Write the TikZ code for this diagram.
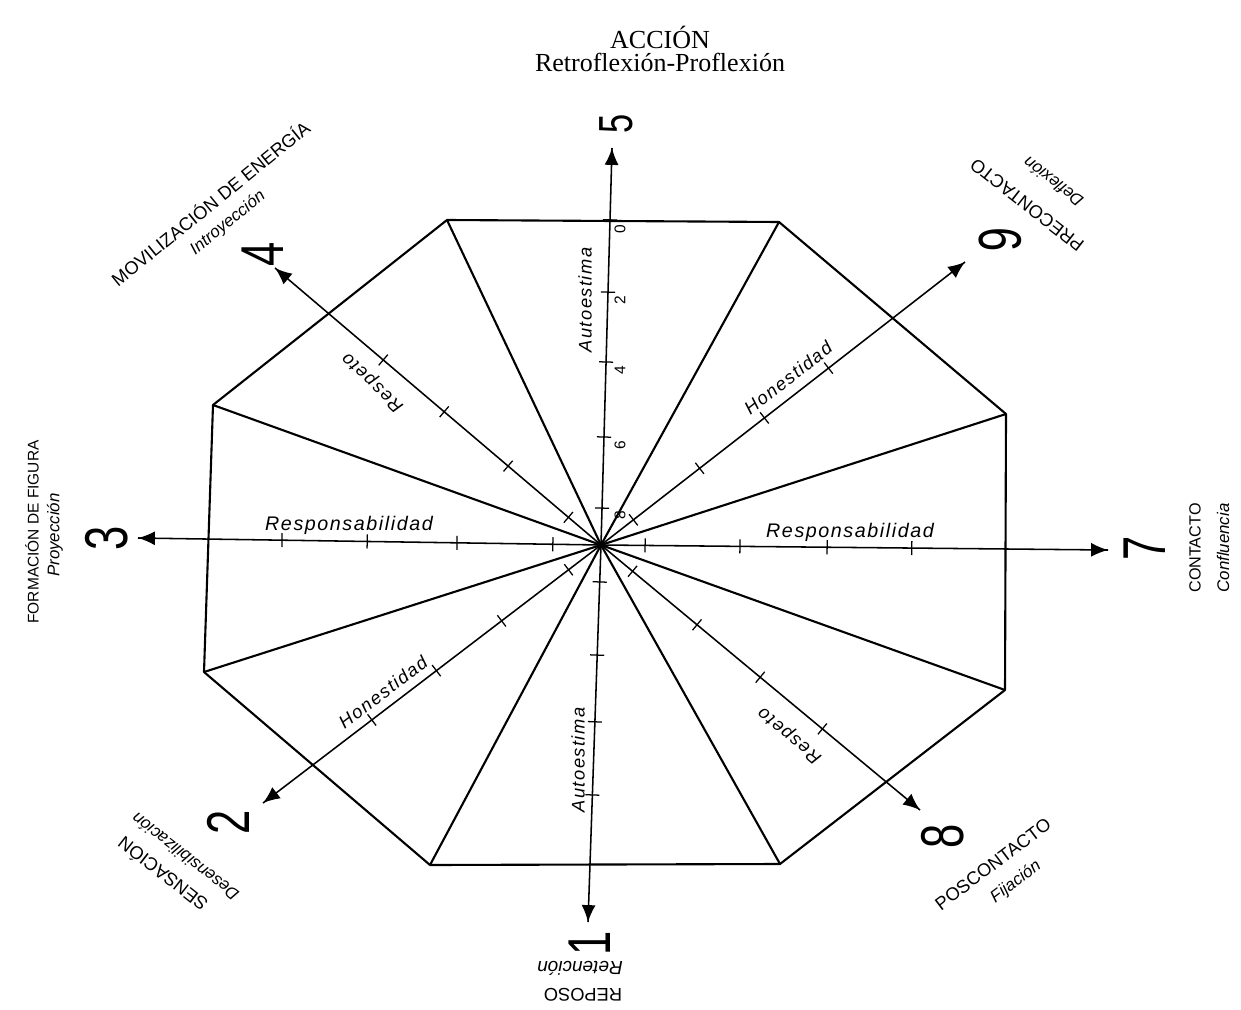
\documentclass[tikz,border=0pt]{standalone}
\usepackage{fontspec}
\setmainfont{Liberation Serif}
\setsansfont{Liberation Sans}
\newfontfamily\spacedsans[LetterSpace=8]{Liberation Sans}
\newfontfamily\narrowsans[FakeStretch=0.72]{Liberation Sans}
\usepackage{tikz}
\usetikzlibrary{arrows.meta}
\usetikzlibrary{decorations.markings}
\tikzset{axis/.style = {line width=1.1pt,
                        decoration={markings,
                                    mark=at position 1 with {\arrow{Latex[length=12pt,width=10pt]}}},
                        postaction={decorate}}}
\tikzset{edge/.style = {line width=1.5pt, line join=round},
         tickmark/.style = {sloped, inner sep=0pt, outer sep=0pt},
         stagenum/.style = {font=\narrowsans\fontsize{43}{46}\selectfont, rotate=90},
         stagename/.style = {font=\sffamily\fontsize{13}{15}\selectfont},
         stagesub/.style = {font=\sffamily\itshape\fontsize{12}{14}\selectfont},
         valuelabel/.style = {font=\spacedsans\itshape\fontsize{13}{15}\selectfont},
         scalenum/.style = {font=\sffamily\fontsize{11}{13}\selectfont, rotate=90}}

\begin{document}
\begin{tikzpicture}[x=0.025cm, y=-0.025cm, every node/.style={inner sep=0pt}]
    \useasboundingbox (0,0) rectangle (1241,1010);

    \node (title) at (660,37) {\fontsize{18.5}{20}\selectfont ACCIÓN};
    \node (subtitle) at (660,62) {\fontsize{18.5}{20}\selectfont Retroflexión-Proflexión};

    \coordinate (O) at (601,545);
    % octagon
    \coordinate (v1) at (447,220);
    \coordinate (v2) at (779,222);
    \coordinate (v3) at (1006,414);
    \coordinate (v4) at (1005,690);
    \coordinate (v5) at (780,864);
    \coordinate (v6) at (430,865);
    \coordinate (v7) at (204,672);
    \coordinate (v8) at (213,405);
    % axis ends
    \coordinate (t1) at (588,922);
    \coordinate (t2) at (263,803);
    \coordinate (t3) at (138,538);
    \coordinate (t4) at (275,268);
    \coordinate (t5) at (612,148);
    \coordinate (t6) at (965,262);
    \coordinate (t7) at (1108,550);
    \coordinate (t8) at (920,810);

    \draw [edge] (v1) -- (v2) -- (v3) -- (v4) -- (v5) -- (v6) -- (v7) -- (v8) -- cycle;
    \foreach \i in {1,...,8} {
      \draw [edge] (O) -- (v\i);
      \draw [axis] (O) -- (t\i);
    }

    \foreach \t/\ticks in {t5/{.093,.272,.461,.637,.819}, t1/{.098,.292,.469,.663},
                           t3/{.104,.311,.505,.689}, t7/{.087,.274,.446,.613},
                           t4/{.100,.285,.481,.668}, t6/{.089,.271,.449,.625},
                           t2/{.096,.294,.487,.678}, t8/{.099,.301,.499,.694}} {
      \foreach \p in \ticks {
        \path (O) -- (\t) node [tickmark, pos=\p] {\rule{0.9pt}{10pt}};
      }
    }

    % scale on the upper axis
    \node [scalenum] (k0) at (620,229) {0};
    \node [scalenum] (k2) at (620,300) {2};
    \node [scalenum] (k4) at (620,370) {4};
    \node [scalenum] (k6) at (620,445) {6};
    \node [scalenum] (k8) at (620,515) {8};

    % values
    \node [valuelabel, rotate=90] (auto1) at (585,300) {Autoestima};
    \node [valuelabel, rotate=90] (auto2) at (578,760) {Autoestima};
    \node [valuelabel, font=\spacedsans\itshape\fontsize{14}{16}\selectfont] (resp1) at (349,525) {Responsabilidad};
    \node [valuelabel, font=\spacedsans\itshape\fontsize{14}{16}\selectfont] (resp2) at (850,532) {Responsabilidad};
    \node [valuelabel, rotate=137] (respeto1) at (373,382) {Respeto};
    \node [valuelabel, rotate=140] (respeto2) at (790,735) {Respeto};
    \node [valuelabel, rotate=38] (hon1) at (788,378) {Honestidad};
    \node [valuelabel, rotate=37] (hon2) at (383,692) {Honestidad};

    % stages
    \node [stagenum, rotate=0] (n1) at (590,943) {1};
    \node [stagenum] (n2) at (228,822) {2};
    \node [stagenum] (n3) at (107,538) {3};
    \node [stagenum] (n4) at (263,254) {4};
    \node [stagenum, font=\narrowsans\fontsize{34}{36}\selectfont] (n5) at (616,124) {5};
    \node [stagenum, rotate=180] (n6) at (1000,240) {6};
    \node [stagenum] (n7) at (1145,548) {7};
    \node [stagenum] (n8) at (943,836) {8};

    \node [stagename, rotate=180] (name1) at (583,995) {REPOSO};
    \node [stagesub, rotate=180, font=\sffamily\itshape\fontsize{13.5}{15}\selectfont] (sub1) at (580,968) {Retención};
    \node [stagename, rotate=142] (name2) at (162,875) {SENSACIÓN};
    \node [stagesub, rotate=142] (sub2) at (185,857) {Desensibilización};
    \node [stagename, rotate=90, font=\sffamily\fontsize{11}{13}\selectfont] (name3) at (32,532) {FORMACIÓN DE FIGURA};
    \node [stagesub, rotate=90] (sub3) at (55,535) {Proyección};
    \node [stagename, rotate=39] (name4) at (210,203) {MOVILIZACIÓN DE ENERGÍA};
    \node [stagesub, rotate=39] (sub4) at (228,223) {Introyección};
    \node [stagename, rotate=142] (name6) at (1027,205) {PRECONTACTO};
    \node [stagesub, rotate=142] (sub6) at (1053,182) {Deflexión};
    \node [stagename, rotate=90, font=\sffamily\fontsize{11.5}{13}\selectfont] (name7) at (1195,548) {CONTACTO};
    \node [stagesub, rotate=90] (sub7) at (1223,548) {Confluencia};
    \node [stagename, rotate=37] (name8) at (993,864) {POSCONTACTO};
    \node [stagesub, rotate=37] (sub8) at (1016,882) {Fijación};
  \end{tikzpicture}
\end{document}
